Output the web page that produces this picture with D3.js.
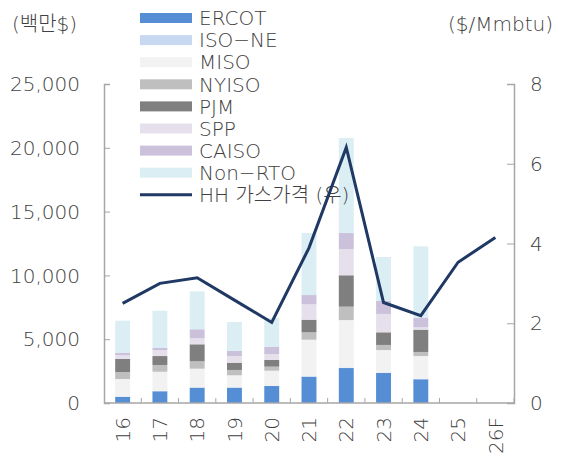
<!DOCTYPE html>
<html>
<head>
<meta charset="utf-8">
<script src="https://cdn.jsdelivr.net/npm/d3@7"></script>
<style>
  body { margin: 0; background: #fff; }
  svg text { font-family: "DejaVu Sans", "Noto Sans CJK KR", sans-serif; font-weight: 200; fill: #404040; }
</style>
</head>
<body>
<svg id="chart" width="565" height="453"></svg>
<script>
// categories
const years = ["16", "17", "18", "19", "20", "21", "22", "23", "24", "25", "26F"];
const barYears = ["16", "17", "18", "19", "20", "21", "22", "23", "24"];

// series (백만$), bottom to top
const ercot  = [480, 920, 1200, 1200, 1330, 2060, 2740, 2350, 1860];
const isone  = [30, 30, 30, 30, 30, 40, 40, 40, 40];
const miso   = [1370, 1500, 1460, 940, 1170, 2860, 3720, 1760, 1780];
const nyiso  = [550, 530, 580, 420, 320, 580, 1050, 400, 320];
const pjm    = [1020, 700, 1330, 570, 520, 990, 2460, 990, 1750];
const spp    = [290, 470, 470, 520, 470, 1200, 2040, 1440, 180];
const caiso  = [180, 160, 710, 400, 550, 730, 1270, 1020, 730];
const nonrto = [2530, 2920, 2970, 2270, 2270, 4860, 7450, 3440, 5620];

// HH gas price ($/Mmbtu)
const hh = [2.5, 3.0, 3.14, 2.58, 2.02, 3.89, 6.41, 2.52, 2.19, 3.53, 4.15];

const seriesNames = ["ERCOT", "ISO−NE", "MISO", "NYISO", "PJM", "SPP", "CAISO", "Non−RTO"];
const seriesColors = ["#558ed5", "#c6d9f1", "#f2f2f2", "#bfbfbf", "#7f7f7f", "#e6e0ec", "#ccc1da", "#dbeef4"];
const leftTicks = [0, 5000, 10000, 15000, 20000, 25000];
const rightTicks = [0, 2, 4, 6, 8];

const svg = d3.select("#chart");
const plotLeft = 104, plotRight = 514, plotTop = 84, plotBottom = 403;

const table = barYears.map((y, i) => ({
  year: y,
  "ERCOT": ercot[i], "ISO−NE": isone[i], "MISO": miso[i], "NYISO": nyiso[i],
  "PJM": pjm[i], "SPP": spp[i], "CAISO": caiso[i], "Non−RTO": nonrto[i]
}));

const x = d3.scaleBand().domain(years).range([plotLeft, plotRight]).paddingInner(0.6).paddingOuter(0.3);
const yL = d3.scaleLinear().domain([0, 25000]).range([plotBottom, plotTop]);
const yR = d3.scaleLinear().domain([0, 8]).range([plotBottom, plotTop]);

const stack = d3.stack().keys(seriesNames)(table);

svg.append("g")
  .selectAll("g")
  .data(stack)
  .enter()
  .append("g")
  .attr("fill", (d, i) => seriesColors[i])
  .selectAll("rect")
  .data((d) => d)
  .enter()
  .append("rect")
  .attr("x", (d) => x(d.data.year))
  .attr("width", x.bandwidth())
  .attr("y", (d) => yL(d[1]))
  .attr("height", (d) => yL(d[0]) - yL(d[1]));

// axes
const axisColor = "#a6a6a6";
const yAxisL = svg.append("g")
  .attr("transform", "translate(" + plotLeft + ",0)")
  .call(d3.axisRight(yL).tickValues(leftTicks).tickSize(6).tickFormat(""));
const yAxisR = svg.append("g")
  .attr("transform", "translate(" + plotRight + ",0)")
  .call(d3.axisLeft(yR).tickValues(rightTicks).tickSize(7).tickFormat(""));
[yAxisL, yAxisR].forEach((g) => {
  g.select(".domain").attr("stroke", axisColor).attr("stroke-width", 1.5);
  g.selectAll(".tick line").attr("stroke", axisColor);
});

svg.append("line")
  .attr("x1", plotLeft).attr("x2", plotRight)
  .attr("y1", plotBottom).attr("y2", plotBottom)
  .attr("stroke", axisColor).attr("stroke-width", 1.5);

svg.append("g")
  .selectAll("line")
  .data(years)
  .enter()
  .append("line")
  .attr("x1", (d) => x(d) + x.bandwidth() / 2 + x.step() / 2)
  .attr("x2", (d) => x(d) + x.bandwidth() / 2 + x.step() / 2)
  .attr("y1", plotBottom)
  .attr("y2", plotBottom - 5)
  .attr("stroke", axisColor);

// tick labels
svg.append("g")
  .selectAll("text")
  .data(leftTicks)
  .enter()
  .append("text")
  .attr("x", 80)
  .attr("y", (d) => yL(d))
  .attr("dy", "0.36em")
  .attr("text-anchor", "end")
  .attr("font-size", 20)
  .text((d) => d3.format(",")(d));

svg.append("g")
  .selectAll("text")
  .data(rightTicks)
  .enter()
  .append("text")
  .attr("x", 530)
  .attr("y", (d) => yR(d))
  .attr("dy", "0.36em")
  .attr("font-size", 20)
  .text((d) => d);

svg.append("g")
  .selectAll("text")
  .data(years)
  .enter()
  .append("text")
  .attr("transform", (d) => "translate(" + (x(d) + x.bandwidth() / 2) + ",417) rotate(-90)")
  .attr("dy", "0.36em")
  .attr("text-anchor", "end")
  .attr("font-size", 20)
  .text((d) => d);

svg.append("text").attr("x", 12).attr("y", 31).attr("font-size", 20).text("(백만$)");
svg.append("text").attr("x", 553).attr("y", 31).attr("font-size", 20).attr("text-anchor", "end").text("($/Mmbtu)");

// legend
const legend = svg.append("g");
seriesNames.forEach((name, i) => {
  const cy = 18 + i * 22.1;
  legend.append("rect")
    .attr("x", 140).attr("y", cy - 5).attr("width", 52).attr("height", 10)
    .attr("fill", seriesColors[i]);
  legend.append("text")
    .attr("x", 199).attr("y", cy).attr("dy", "0.36em").attr("font-size", 20)
    .text(name);
});
const hy = 18 + 8 * 22.1;
legend.append("line")
  .attr("x1", 140).attr("x2", 192).attr("y1", hy).attr("y2", hy)
  .attr("stroke", "#1f3864").attr("stroke-width", 3);
legend.append("text")
  .attr("x", 199).attr("y", hy).attr("dy", "0.36em").attr("font-size", 20)
  .text("HH 가스가격 (우)");

// HH line
const line = d3.line()
  .x((d, i) => x(years[i]) + x.bandwidth() / 2)
  .y((d) => yR(d));

svg.append("path")
  .datum(hh)
  .attr("d", line)
  .attr("fill", "none")
  .attr("stroke", "#1f3864")
  .attr("stroke-width", 3)
  .attr("stroke-linejoin", "miter");
</script>
</body>
</html>
